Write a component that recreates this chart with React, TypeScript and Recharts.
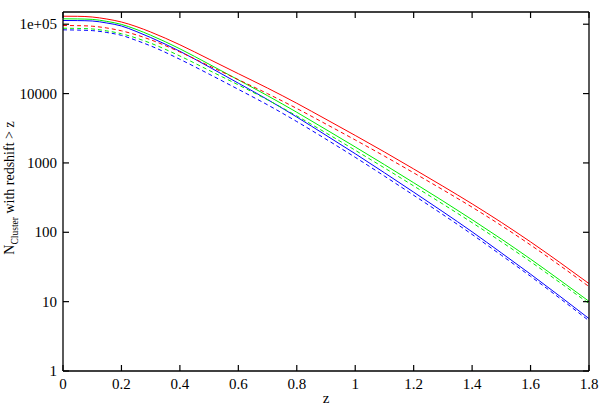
import { Line, LineChart, XAxis, YAxis } from 'recharts';

const FONT = '"Liberation Serif", "Times New Roman", serif';

// redshift grid
const zValues = [0, 0.05, 0.1, 0.15, 0.2, 0.25, 0.3, 0.4, 0.5, 0.6, 0.7, 0.8, 0.9, 1.0, 1.1, 1.2, 1.3, 1.4, 1.5, 1.6, 1.7, 1.8];

// cumulative cluster counts N(>z)
const redSolid = [130400, 130000, 127000, 118800, 107600, 92700, 77200, 50500, 31300, 19350, 12000, 7250, 4260, 2490, 1440, 819, 462, 257, 139, 72.7, 36.8, 18.2];
const redDashed = [95700, 95300, 93600, 88200, 80300, 70400, 59600, 39800, 25100, 15870, 9970, 6100, 3630, 2145, 1253, 720, 410, 230, 125, 65.6, 33.3, 16.5];
const greenSolid = [119600, 119200, 117400, 109800, 99400, 84400, 69400, 44200, 26500, 15750, 9320, 5380, 3030, 1700, 945, 518, 283, 152, 80, 41.1, 20.5, 10.1];
const greenDashed = [87500, 87000, 85400, 80100, 72900, 63300, 53300, 34800, 21600, 13340, 8110, 4760, 2710, 1523, 847, 466, 255, 137.6, 72.9, 37.7, 18.9, 9.4];
const blueSolid = [113100, 112800, 111300, 104100, 94300, 78800, 64300, 40700, 24200, 14130, 8200, 4590, 2505, 1357, 721, 379, 198, 101.5, 50.5, 24.9, 12.0, 5.7];
const blueDashed = [83000, 82300, 80900, 76000, 69100, 58600, 48700, 31200, 19070, 11500, 6880, 3950, 2200, 1205, 646, 342, 180, 93.1, 46.7, 23.2, 11.2, 5.3];

const xTicks = [0, 0.2, 0.4, 0.6, 0.8, 1, 1.2, 1.4, 1.6, 1.8];
const yTicks = [1, 10, 100, 1000, 10000, 100000];
const yTickLabels = ['1', '10', '100', '1000', '10000', '1e+05'];

const data = zValues.map((z, i) => ({
  z,
  redSolid: redSolid[i],
  redDashed: redDashed[i],
  greenSolid: greenSolid[i],
  greenDashed: greenDashed[i],
  blueSolid: blueSolid[i],
  blueDashed: blueDashed[i],
}));

const series = [
  { key: 'redSolid', color: '#ff0000', dash: undefined },
  { key: 'greenSolid', color: '#00ee00', dash: undefined },
  { key: 'blueSolid', color: '#0000ff', dash: undefined },
  { key: 'redDashed', color: '#ff0000', dash: '4 3' },
  { key: 'greenDashed', color: '#00ee00', dash: '4 3' },
  { key: 'blueDashed', color: '#0000ff', dash: '4 3' },
];

const TICK_LEN = 6;
const textStyle = { fontFamily: FONT, fontSize: 15 };
const frame = { stroke: '#000', strokeWidth: 1.3 };

// tick marks point into the plot, drawn by hand (tickSize is 0)
function BottomTick({ x, y, payload }: any) {
  return (
    <g>
      <line x1={x} y1={y} x2={x} y2={y - TICK_LEN} stroke="#000" strokeWidth={1.2} />
      <text x={x} y={y + 18} textAnchor="middle" style={textStyle} fill="#000">
        {String(payload.value)}
      </text>
    </g>
  );
}

function TopTick({ x, y }: any) {
  return <line x1={x} y1={y} x2={x} y2={y + TICK_LEN} stroke="#000" strokeWidth={1.2} />;
}

function LeftTick({ x, y, payload }: any) {
  const label = yTickLabels[yTicks.indexOf(payload.value)];
  return (
    <g>
      <line x1={x} y1={y} x2={x + TICK_LEN} y2={y} stroke="#000" strokeWidth={1.2} />
      <text x={x - 6} y={y + 5} textAnchor="end" style={textStyle} fill="#000">
        {label}
      </text>
    </g>
  );
}

function RightTick({ x, y }: any) {
  return <line x1={x} y1={y} x2={x - TICK_LEN} y2={y} stroke="#000" strokeWidth={1.2} />;
}

function XTitle() {
  return (
    <text x={326} y={403} textAnchor="middle" style={textStyle} fill="#000">
      z
    </text>
  );
}

function YTitle() {
  return (
    <text
      transform="translate(14,188) rotate(-90)"
      textAnchor="middle"
      style={{ fontFamily: FONT, fontSize: 14 }}
      fill="#000"
    >
      <tspan>N</tspan>
      <tspan fontSize={9.5} dy={4}>Cluster</tspan>
      <tspan dy={-4}> with redshift &gt; z</tspan>
    </text>
  );
}

export default function App() {
  return (
    <div style={{ position: 'absolute', left: 0, top: 0, width: 600, height: 407, background: '#fff' }}>
      <LineChart width={600} height={407} data={data} margin={{ top: 11, right: 10, bottom: 0, left: 0 }}>
        <XAxis
          dataKey="z"
          type="number"
          domain={[0, 1.8]}
          ticks={xTicks}
          allowDataOverflow
          height={36}
          tickSize={0}
          tickMargin={0}
          tick={<BottomTick />}
          axisLine={frame}
          label={<XTitle />}
        />
        <XAxis
          xAxisId="top"
          orientation="top"
          dataKey="z"
          type="number"
          domain={[0, 1.8]}
          ticks={xTicks}
          allowDataOverflow
          height={1}
          tickSize={0}
          tickMargin={0}
          tick={<TopTick />}
          axisLine={frame}
        />
        <YAxis
          type="number"
          scale="log"
          domain={[1, 150000]}
          ticks={yTicks}
          allowDataOverflow
          width={63}
          tickSize={0}
          tickMargin={0}
          tick={<LeftTick />}
          axisLine={frame}
          label={<YTitle />}
        />
        <YAxis
          yAxisId="right"
          orientation="right"
          type="number"
          scale="log"
          domain={[1, 150000]}
          ticks={yTicks}
          allowDataOverflow
          width={1}
          tickSize={0}
          tickMargin={0}
          tick={<RightTick />}
          axisLine={frame}
        />
        {series.map((s) => (
          <Line
            key={s.key}
            dataKey={s.key}
            type="monotone"
            stroke={s.color}
            strokeWidth={1}
            strokeDasharray={s.dash}
            dot={false}
            activeDot={false}
            isAnimationActive={false}
          />
        ))}
      </LineChart>
    </div>
  );
}
